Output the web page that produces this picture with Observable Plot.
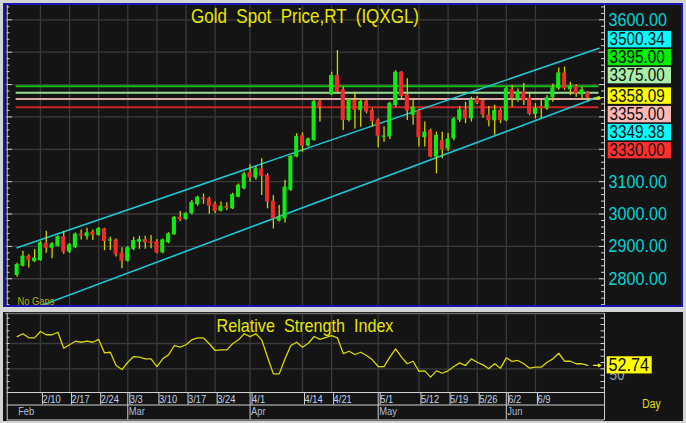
<!DOCTYPE html>
<html><head><meta charset="utf-8">
<script src="https://cdn.jsdelivr.net/npm/d3@7"></script>
<script src="https://cdn.jsdelivr.net/npm/@observablehq/plot@0.6"></script>
<style>
html,body{margin:0;padding:0;background:#d4d4d4;}
#wrap{position:relative;width:686px;height:423px;background:#d4d4d4;overflow:hidden;}
#top{position:absolute;left:3px;top:3px;width:680px;height:304px;box-sizing:border-box;border:2px solid #1818b0;background:#141414;}
#bot{position:absolute;left:3px;top:312px;width:680px;height:109px;background:#141414;}
#top svg{position:absolute;left:0;top:0;}
#bot svg{position:absolute;left:2px;top:0;}
</style></head><body>
<div id="wrap"><div id="top"></div><div id="bot"></div></div>
<script>
// ---------------- DATA ----------------
const dates = ["2/4","2/5","2/6","2/7","2/10","2/11","2/12","2/13","2/14","2/17","2/18","2/19","2/20","2/21","2/24","2/25","2/26","2/27","2/28","3/3","3/4","3/5","3/6","3/7","3/10","3/11","3/12","3/13","3/14","3/17","3/18","3/19","3/20","3/21","3/24","3/25","3/26","3/27","3/28","3/31","4/1","4/2","4/3","4/4","4/7","4/8","4/9","4/10","4/11","4/14","4/15","4/16","4/17","4/18","4/21","4/22","4/23","4/24","4/25","4/28","4/29","4/30","5/1","5/2","5/5","5/6","5/7","5/8","5/9","5/12","5/13","5/14","5/15","5/16","5/19","5/20","5/21","5/22","5/23","5/26","5/27","5/28","5/29","5/30","6/2","6/3","6/4","6/5","6/6","6/9","6/10","6/11","6/12","6/13","6/16","6/17","6/18","6/19","6/20"];
const opens = [2810,2839,2870,2853,2856,2910,2894,2900,2930,2882,
2896,2938,2930,2944,2934,2954,2916,2920,2879,2854,
2891,2913,2921,2914,2915,2880,2911,2936,2990,2983,
3001,3029,3050,3047,3030,3009,3023,3016,3052,3078,
3128,3111,3139,3119,3039,2978,2985,3073,3176,3242,
3210,3227,3348,null,3368,3428,3384,3289,3351,3320,
3348,3320,3291,3237,3238,3335,3438,3368,3305,3320,
3236,3258,3176,3227,3201,3232,3290,3322,3294,3356,
3349,3305,3288,3320,3288,3384,3352,3378,3359,3308,
3332,3325,3359,3387,3435,3384,3394,3368,3375];
const highs = [2848,2885,2874,2890,2915,2947,2911,2933,2947,2909,
2941,2951,2956,2951,2958,2956,2928,2923,2896,2900,
2928,2931,2931,2934,2921,2923,2942,2992,3008,3004,
3042,3055,3062,3052,3037,3037,3035,3064,3093,3129,
3152,3147,3171,3124,3057,3026,3104,3181,3248,3250,
3235,3351,3356,null,3438,3505,3392,3356,3376,3356,
3351,3325,3294,3270,3345,3443,3440,3418,3351,3324,
3284,3262,3253,3253,3249,3298,3332,3345,3361,3363,
3357,3332,3336,3325,3392,3397,3386,3403,3376,3341,
3351,3366,3402,3451,3454,3407,3399,3392,3378];
const lows = [2805,2836,2833,2850,2854,2879,2862,2898,2876,2878,
2893,2920,2920,2918,2931,2887,2887,2867,2831,2851,
2887,2891,2891,2893,2877,2877,2908,2934,2977,2981,
2998,3024,3030,2999,3001,3006,3011,3014,3050,3075,
3098,3104,3057,3016,2954,2975,2972,3070,3174,3191,
3207,3225,3284,null,3366,3371,3258,3284,3263,3268,
3310,3268,3205,3222,3230,3330,3352,3289,3274,3207,
3207,3174,3124,3171,3193,3226,3283,3279,3284,3338,
3296,3270,3243,3279,3285,3330,3345,3335,3304,3294,
3294,3320,3345,3382,3382,3366,3361,3351,3347];
const closes = [2844,2870,2856,2864,2911,2894,2908,2930,2882,2905,
2938,2932,2942,2934,2955,2915,2920,2874,2854,2896,
2918,2921,2911,2909,2880,2920,2939,2990,2982,3002,
3036,3052,3045,3024,3008,3024,3018,3060,3089,3124,
3112,3140,3116,3037,2985,2990,3083,3178,3240,3209,
3232,3348,3330,null,3428,3376,3289,3353,3320,3348,
3315,3286,3240,3241,3342,3438,3363,3318,3330,3236,
3253,3176,3243,3199,3232,3294,3322,3294,3353,3341,
3305,3288,3320,3288,3387,3356,3378,3350,3308,3327,
3325,3359,3390,3436,3387,3394,3371,3384,3358.09];
const rsiValues = [75.5,77.7,74.5,74.4,79.5,76.9,76.9,78.9,66.3,69,
71.8,71,71.8,71,73.2,62.6,63.1,52.6,49.4,55.2,
59.7,59.2,57.9,57.9,51.8,57.9,61,68.4,67.1,69,
72.9,74.5,74.4,69.8,64.5,65,65,69.8,72.9,77.7,
75.5,77.7,72.9,59.2,46,46,57.9,68.4,71,67.1,
70.2,75.5,73.2,null,76.3,74.5,62,63.9,61.3,63.1,
60.5,57.1,51.8,51.8,59.2,65.8,59.2,54,56,48.1,
48.4,43.4,48.4,46.5,48.4,51.8,54.7,52.6,57.9,55.2,
53.1,50,54,50.5,58.7,55.8,56.6,54,50.5,51.3,
51.3,55.2,57.9,62.3,56,56,54,54,52.74];
const tickLabels = ["2/10","2/17","2/24","3/3","3/10","3/17","3/24","4/1","4/14","4/21","5/1","5/12","5/19","5/26","6/2","6/9"];
const monthLabels = ["Feb","Mar","Apr","May","Jun"];
const monthStarts = ["2/4","3/3","4/1","5/1","6/2"];
const priceGrid = [2800,2900,3000,3100,3200,3300,3400,3500,3600];
const priceAxisLabels = [2800,2900,3000,3100,3600];
const levels = [3395,3375,3355,3330];
// channel anchor points: [trading-day index, price]
const upperChannel = [[0,2896],[98,3500.34]];
const lowerChannel = [[4.5,2720],[98,3349.38]];
const rsiGrid = [50,70];
const titleText = "Gold  Spot  Price,RT  (IQXGL)";
const rsiTitle = "Relative  Strength  Index";

(function () {
// ---------------- STYLE ----------------
const FONT = '"Liberation Sans",Arial,sans-serif';
const BG = "#141414", GRID = "#3a3a3a", AXIS = "#d0d0d0";
const UP = "#12e812", DOWN = "#f02a2a", WICK = "#d2d200", CYAN = "#1cc8d6";
const levelLine = ["#10c010","#98dc98","#dca8a8","#cc2424"];
const levelBox = ["#00ee00","#a8eea8","#ffb8b8","#ff3030"];
const SQUEEZE = 0.85;

// ---------------- LAYOUT ----------------
const W1 = 676, H1 = 300, MR1 = 77;
const kL = -2.0, kR = 100.86;
const pxK = (W1 - MR1) / (kR - kL);
const upK = px => px / pxK;
const yDom = [2717.4, 3644.2];
const pxP = H1 / (yDom[1] - yDom[0]);
const upP = px => px / pxP;
const kEnd = kR - upK(5.5);

const kIndex = s => dates.indexOf(s);
const tickK = tickLabels.map(kIndex);
const monthK = monthStarts.map(kIndex);
const candles = dates.map((date, k) => ({k, date, open: opens[k], high: highs[k], low: lows[k], close: closes[k]}))
  .filter(d => d.open != null);
const last = candles[candles.length - 1];
function extend(ch) {
  const [[a, pa], [b, pb]] = ch; const s = (pb - pa) / (b - a);
  return [[a, pa], [kEnd, pa + s * (kEnd - a)]];
}
const levelData = levels.map((v, i) => ({v, stroke: levelLine[i], bg: levelBox[i]}));

let items = [
  {v: upperChannel[1][1], bg: "#00ffff"},
  ...levelData.map(d => ({v: d.v, bg: d.bg})),
  {v: last.close, bg: "#ffff00", cur: true},
  {v: lowerChannel[1][1], bg: "#00ffff"}
].sort((a, b) => b.v - a.v);
const ci = items.findIndex(d => d.cur);
const yc = last.close + upP(2);
items.forEach((d, i) => {
  if (i < ci) d.y = yc + upP(20.5 + 18 * (ci - 1 - i));
  else if (i > ci) d.y = yc - upP(18.5 + 18 * (i - ci - 1));
  else d.y = yc;
});

const minor1 = d3.range(2720, 3641, 20);

function condense(svg) {
  svg.querySelectorAll("text").forEach(t => {
    const len = t.getComputedTextLength();
    if (len > 0) { t.setAttribute("textLength", (len * SQUEEZE).toFixed(2)); t.setAttribute("lengthAdjust", "spacingAndGlyphs"); }
  });
}

const topChart = Plot.plot({
  width: W1, height: H1,
  marginLeft: 0, marginRight: MR1, marginTop: 0, marginBottom: 0,
  x: {domain: [kL, kR], axis: null, label: null},
  y: {domain: yDom, label: null},
  color: {type: "identity"},
  style: {background: BG, fontFamily: FONT, overflow: "hidden", whiteSpace: "pre"},
  marks: [
    Plot.ruleY(priceGrid, {stroke: GRID, strokeWidth: 1.3}),
    Plot.ruleX(tickK, {stroke: GRID, strokeWidth: 1.3}),
    Plot.ruleY(levelData, {y: "v", x1: -upK(1), x2: kEnd, stroke: "stroke", strokeWidth: 2}),
    Plot.line(extend(upperChannel), {x: d => d[0], y: d => d[1], stroke: CYAN, strokeWidth: 1.6}),
    Plot.line(extend(lowerChannel), {x: d => d[0], y: d => d[1], stroke: CYAN, strokeWidth: 1.6}),
    Plot.ruleX(candles, {x: "k", y1: "low", y2: "high", stroke: WICK, strokeWidth: 1.3}),
    Plot.rect(candles, {x1: d => d.k - 0.35, x2: d => d.k + 0.35, y1: "open", y2: "close",
      fill: d => d.close >= d.open ? UP : DOWN}),
    Plot.arrow([last], {x1: kR - upK(11), x2: kR - upK(4), y1: "close", y2: "close", stroke: "#e8e800", strokeWidth: 1.4, headLength: 5}),
    Plot.ruleX([kL + upK(1.7)], {stroke: AXIS, strokeWidth: 1}),
    Plot.ruleY(minor1, {x1: kL + upK(1.7), x2: d => kL + upK(d % 100 === 0 ? 7 : 4.5), stroke: AXIS}),
    Plot.ruleX([kR], {stroke: AXIS, strokeWidth: 1}),
    Plot.ruleY(minor1, {x1: d => kR - upK(d % 100 === 0 ? 5 : 3), x2: kR, stroke: AXIS}),
    Plot.axisY({anchor: "right", ticks: priceAxisLabels, tickSize: 0, tickPadding: 4, label: null,
      tickFormat: d => d.toFixed(2), fill: "#00d4d4", fontSize: 19}),
    Plot.rect(items, {x1: kR + upK(3.7), x2: kR + upK(67), y1: d => d.y - upP(8.2), y2: d => d.y + upP(8.2), fill: "bg"}),
    Plot.text(items, {x: kR + upK(5), y: "y", text: d => d.v.toFixed(2), textAnchor: "start", fill: "#101010", fontSize: 18}),
    Plot.text([titleText], {frameAnchor: "top", dy: 3, fill: "#e6e600", fontSize: 20}),
    Plot.text(["No Gaps"], {frameAnchor: "bottom-left", dx: 12, dy: -1, textAnchor: "start", fill: "#b0b000", fontSize: 11})
  ]
});
document.getElementById("top").appendChild(topChart);
condense(topChart);

// ---------------- RSI PANEL ----------------
const W2 = 678, H2 = 109, MR2 = 79, MT2 = 1, MB2 = 29;
const rDom = [31.3, 93.7];
const pxR = (H2 - MT2 - MB2) / (rDom[1] - rDom[0]);
const upR = px => px / pxR;
const rsiData = dates.map((date, k) => ({k, date, rsi: rsiValues[k]})).filter(d => d.rsi != null);
const minor2 = d3.range(35, 93, 5);
const lastR = rsiData[rsiData.length - 1];

const botChart = Plot.plot({
  width: W2, height: H2,
  marginLeft: 0, marginRight: MR2, marginTop: MT2, marginBottom: MB2,
  x: {domain: [kL, kR], label: null},
  y: {domain: rDom, axis: null, label: null},
  color: {type: "identity"},
  style: {background: BG, fontFamily: FONT, overflow: "hidden", whiteSpace: "pre"},
  marks: [
    Plot.ruleY(rsiGrid, {stroke: GRID, strokeWidth: 1.3}),
    Plot.ruleX(tickK, {stroke: GRID, strokeWidth: 1.3}),
    Plot.ruleY([rDom[1]], {stroke: "#6a6a6a", strokeWidth: 1.5}),
    Plot.text([rsiTitle], {frameAnchor: "top", dy: 5, fill: "#e6e600", fontSize: 19}),
    Plot.line(rsiData, {x: "k", y: "rsi", stroke: "#d8d800", strokeWidth: 1.3}),
    Plot.arrow([lastR], {x1: kR - upK(11), x2: kR - upK(4), y1: "rsi", y2: "rsi", stroke: "#e8e800", strokeWidth: 1.4, headLength: 5}),
    Plot.ruleX([kL + upK(1.7)], {stroke: AXIS, insetBottom: -28}),
    Plot.ruleY(minor2, {x1: kL + upK(1.7), x2: kL + upK(4.5), stroke: AXIS}),
    Plot.ruleX([kR], {stroke: AXIS, insetBottom: -28}),
    Plot.ruleY(minor2, {x1: kR - upK(3.5), x2: kR, stroke: AXIS}),
    Plot.ruleY([rDom[0]], {x1: kL + upK(1.7), x2: kR, stroke: AXIS, strokeWidth: 1.2}),
    Plot.ruleY([rDom[0]], {x1: kL + upK(1.7), x2: kR, dy: 12.5, stroke: AXIS, strokeWidth: 1.2}),
    Plot.ruleY([rDom[0]], {x1: kL + upK(1.7), x2: kR, dy: 27.5, stroke: AXIS, strokeWidth: 1.2}),
    Plot.axisX({ticks: tickK, tickSize: 12.5, tickPadding: -10, tickFormat: k => dates[k], label: null,
      textAnchor: "start", dx: 2, stroke: AXIS, fill: "#c0d2ea", fontSize: 11}),
    Plot.axisX({ticks: monthK.slice(1), tickSize: 27.5, tickFormat: () => "", label: null, stroke: AXIS}),
    Plot.axisX({ticks: monthK, tickSize: 0, tickPadding: 15, tickFormat: k => monthLabels[monthK.indexOf(k)], label: null,
      textAnchor: "start", dx: 1, fill: "#a8bede", fontSize: 11}),
    Plot.text(["Day"], {frameAnchor: "bottom-right", dx: 56, dy: 15, fill: "#e0e000", fontSize: 12}),
    Plot.text([50], {x: kR, y: d => d, dx: 5, dy: 6, text: d => String(d), textAnchor: "start", fill: "#8aa2b4", fontSize: 16}),
    Plot.rect([lastR], {x1: kR + upK(2.7), x2: kR + upK(47.7), y1: d => d.rsi - upR(8.6), y2: d => d.rsi + upR(8.6), fill: "#ffff00"}),
    Plot.text([lastR], {x: kR + upK(4), y: "rsi", text: d => d.rsi.toFixed(2), textAnchor: "start", fill: "#101010", fontSize: 19})
  ]
});
document.getElementById("bot").appendChild(botChart);
condense(botChart);
})();
</script>
</body></html>
